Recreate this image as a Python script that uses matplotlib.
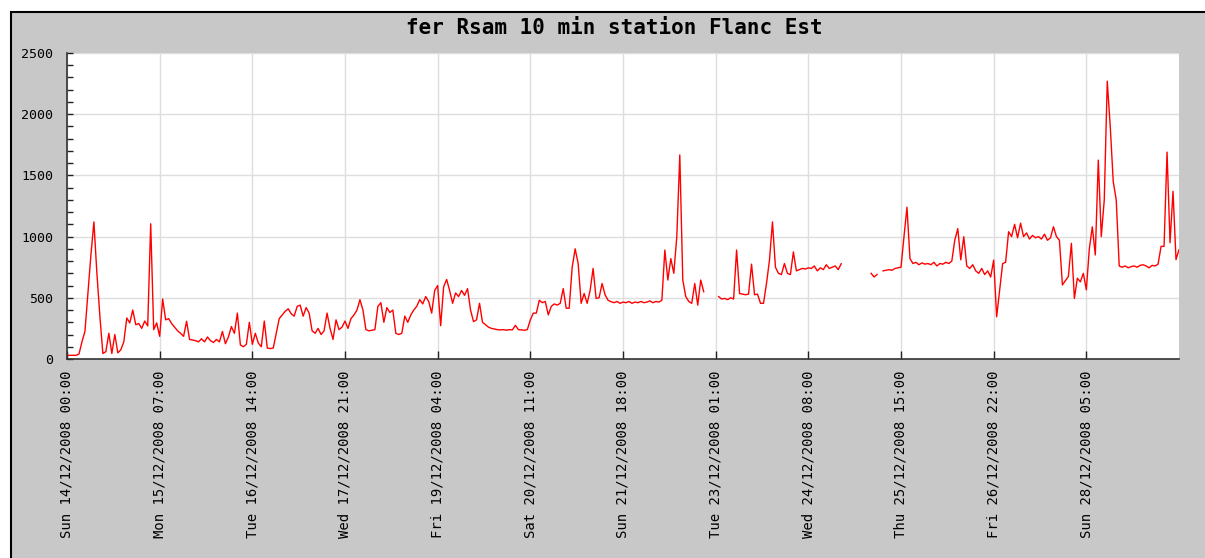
import numpy as np
import pandas as pd
import matplotlib
matplotlib.use("Agg")
import matplotlib.pyplot as plt
from matplotlib.patches import Rectangle
from matplotlib.ticker import MultipleLocator

nan = np.nan

# hourly RSAM values, one list per day (nan = no data)
dec14 = [30, 30, 30, 30, 40, 140, 225, 540, 850, 1120, 700, 350, 45, 60, 210, 45, 200, 50, 75, 140, 335, 295, 400, 280]
dec15 = [290, 250, 310, 270, 1105, 240, 295, 185, 490, 320, 330, 290, 260, 230, 210, 185, 308, 160, 155, 150, 140, 165, 140, 180]
dec16 = [150, 135, 160, 140, 225, 125, 180, 265, 210, 375, 115, 100, 120, 300, 120, 210, 130, 100, 310, 90, 85, 90, 210, 330]
dec17 = [360, 390, 410, 370, 350, 430, 440, 350, 420, 375, 230, 210, 250, 200, 230, 375, 250, 160, 320, 240, 260, 310, 250, 330]
dec18 = [360, 400, 485, 400, 240, 230, 235, 240, 430, 460, 300, 420, 380, 400, 210, 200, 210, 350, 300, 360, 400, 430, 485, 450]
dec19 = [510, 470, 375, 560, 600, 272, 590, 650, 560, 455, 540, 510, 560, 520, 575, 400, 305, 320, 455, 300, 280, 260, 250, 245]
dec20 = [240, 238, 240, 235, 240, 238, 275, 240, 238, 235, 240, 320, 375, 375, 480, 460, 470, 360, 430, 450, 440, 455, 575, 415]
dec21 = [415, 750, 900, 780, 455, 535, 455, 560, 740, 495, 500, 617, 525, 480, 468, 460, 470, 455, 465, 460, 470, 455, 465, 460]
dec22 = [470, 460, 465, 475, 460, 470, 465, 480, 890, 645, 820, 700, 1000, 1667, 645, 510, 470, 455, 617, 440, 645, 550, nan, nan]
dec23 = [nan, nan, 510, 490, 495, 485, 500, 490, 890, 535, 530, 525, 530, 775, 525, 530, 455, 455, 617, 807, 1120, 750, 700, 690]
dec24 = [780, 700, 690, 875, 720, 730, 740, 735, 745, 740, 760, 720, 745, 730, 770, 740, 750, 760, 730, 778, nan, nan, nan, nan]
dec25 = [nan, nan, nan, nan, nan, 700, 670, 690, nan, 720, 725, 730, 725, 740, 745, 750, 1000, 1240, 820, 780, 790, 770, 785, 775]
dec26 = [780, 770, 790, 760, 780, 775, 790, 780, 800, 972, 1065, 810, 999, 760, 740, 770, 720, 700, 740, 690, 720, 670, 808, 345]
dec27 = [565, 780, 790, 1040, 1000, 1100, 990, 1110, 1000, 1030, 980, 1010, 990, 1000, 980, 1020, 970, 990, 1080, 1000, 970, 605, 640, 675]
dec28 = [945, 495, 660, 630, 700, 565, 900, 1080, 850, 1625, 1000, 1300, 2270, 1900, 1450, 1300, 760, 750, 760, 745, 755, 760, 750, 765]
dec29 = [770, 760, 745, 765, 760, 775, 920, 920, 1690, 950, 1370, 812, 893]

rsam = (dec14 + dec15 + dec16 + dec17 + dec18 + dec19 + dec20 + dec21
        + dec22 + dec23 + dec24 + dec25 + dec26 + dec27 + dec28 + dec29)

start = pd.Timestamp("2008-12-14 00:00")
times = pd.date_range(start, periods=len(rsam), freq="h")
tick_times = pd.date_range(start, periods=12, freq="31h")
tick_labels = [t.strftime("%a %d/%m/%Y %H:%M") for t in tick_times]
title = "fer Rsam 10 min station Flanc Est"

W, H = 1205, 558
mono = "DejaVu Sans Mono"

fig = plt.figure(figsize=(W / 100, H / 100), dpi=100)
fig.patch.set_facecolor("white")
fig.patches.append(Rectangle((10.5 / W, -0.05), 1.1, 1.05 - 11.5 / H, transform=fig.transFigure,
                             facecolor="#c8c8c8", edgecolor="black", linewidth=1.5, zorder=-10))

ax = fig.add_axes([67 / W, 1 - 359 / H, (1179 - 67) / W, (359 - 53) / H])
ax.set_facecolor("white")
ax.plot(times.to_pydatetime(), rsam, color="red", linewidth=1)

ax.set_xlim(start.to_pydatetime(), (start + pd.Timedelta(hours=372)).to_pydatetime())
ax.set_ylim(0, 2500)
ax.yaxis.set_major_locator(MultipleLocator(500))
ax.yaxis.set_minor_locator(MultipleLocator(100))
ax.set_xticks(tick_times.to_pydatetime())
ax.set_xticklabels(tick_labels, rotation=90, fontfamily=mono, fontsize=10)
for lab in ax.get_yticklabels():
    lab.set_fontfamily(mono)
    lab.set_fontsize(9.5)

ax.grid(True, which="major", color="#dedede", linewidth=1)
ax.set_axisbelow(True)
ax.tick_params(axis="x", direction="in", length=5.5, width=1, color="#222222", pad=8)
ax.tick_params(axis="y", which="both", direction="in", length=4, width=1, color="#222222", pad=10)
for side in ["top", "right"]:
    ax.spines[side].set_visible(False)
for side in ["left", "bottom"]:
    ax.spines[side].set_color("#333333")
    ax.spines[side].set_linewidth(1.2)

fig.text(614 / W, 1 - 28 / H, title, ha="center", va="center", fontsize=15,
         fontweight="bold", fontfamily=mono)

fig.savefig("out.png", dpi=100)
